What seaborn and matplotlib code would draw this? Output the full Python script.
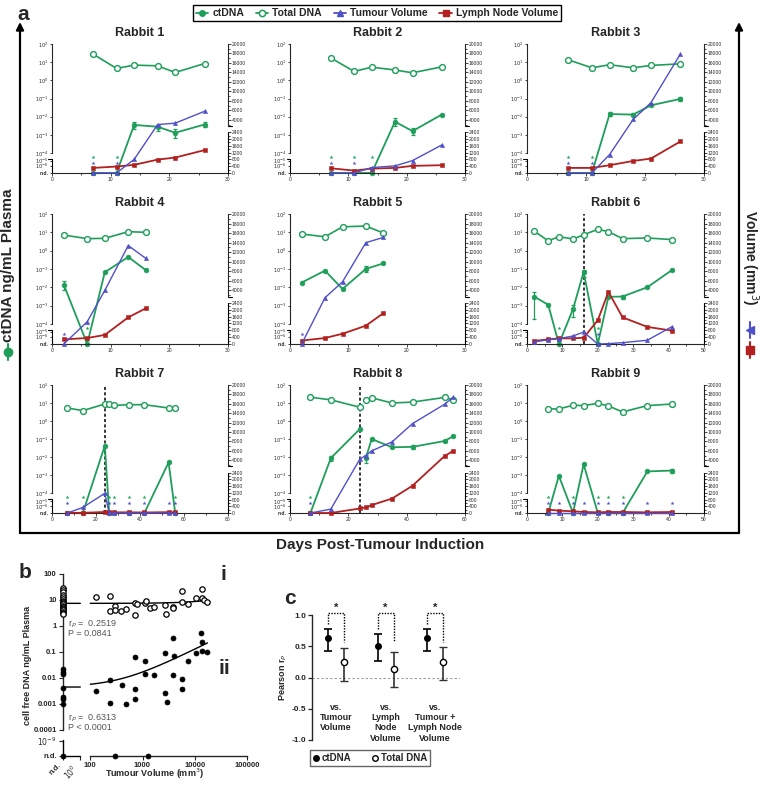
import numpy as np
import pandas as pd
import seaborn as sns
import matplotlib.pyplot as plt
from matplotlib.lines import Line2D

sns.set_style('ticks')
plt.rcParams['font.family'] = ['Liberation Sans', 'DejaVu Sans']
plt.rcParams['mathtext.fontset'] = 'dejavusans'

GREEN = '#1f9e5a'
BLUE = '#5050c8'
RED = '#b22020'

# ---------------- panel a data (ctDNA ng/mL, total DNA ng/mL, volumes mm3) ----------------
RABBITS = [1, 2, 3, 4, 5, 6, 7, 8, 9]
days = {
    1: [7, 11, 14, 18, 21, 26],
    2: [7, 11, 14, 18, 21, 26],
    3: [7, 11, 14, 18, 21, 26],
    4: [2, 6, 9, 13, 16],
    5: [2, 6, 9, 13, 16],
    6: [2, 6, 9, 13, 16, 20, 23, 27, 34, 41],
    7: [7, 14, 24, 26, 28, 35, 42, 53, 56],
    8: [7, 14, 24, 26, 28, 35, 42, 53, 56],
    9: [6, 9, 13, 16, 20, 23, 27, 34, 41],
}
# 0 = not detected
ctdna = {
    1: [0, 0, 3.5e-3, 2.8e-3, 1.3e-3, 3.7e-3],
    2: [0, 0, 0, 5.3e-3, 1.6e-3, 1.3e-2],
    3: [0, 0, 1.4e-2, 1.3e-2, 4.2e-2, 9.5e-2],
    4: [1.4e-2, 0, 6.6e-2, 0.45, 8.5e-2],
    5: [1.8e-2, 8.1e-2, 8e-3, 0.1, 0.2],
    6: [3.1e-3, 1.1e-3, 0, 6.3e-4, 6.9e-2, 0, 3e-3, 3.1e-3, 1e-2, 8.8e-2],
    7: [0, 0, 4.3e-2, 0, 0, 0, 0, 5.1e-3, 0],
    8: [0, 8.8e-3, 0.37, 9e-3, 0.1, 0.035, 0.037, 0.078, 0.146],
    9: [0, 9.2e-4, 0, 4e-3, 0, 0, 0, 1.6e-3, 1.8e-3],
}
total = {
    1: [28, 4.5, 6.9, 6.3, 2.7, 8.4],
    2: [17, 3.1, 5.3, 3.7, 2.6, 5.5],
    3: [13.4, 4.9, 7.2, 4.9, 6.6, 8.1],
    4: [7.1, 4.5, 4.7, 10.8, 10],
    5: [8.1, 5.7, 20, 22, 9.2],
    6: [11.8, 3.4, 5.8, 4.3, 7.3, 14.6, 10.9, 4.5, 4.9, 4.0],
    7: [5.3, 3.8, 8.8, 9.2, 7.3, 8.1, 8.1, 5.3, 5.3],
    8: [21, 15, 5.8, 15, 19.5, 10, 11.3, 20.4, 15],
    9: [4.7, 4.7, 7.5, 7.2, 9.6, 6.9, 3.2, 7.2, 8.8],
}
tumour = {
    1: [0, 0, 800, 3000, 3300, 5800],
    2: [0, 0, 320, 420, 730, 1650],
    3: [0, 0, 1090, 4100, 7600, 17900],
    4: [0, 1300, 4000, 13400, 10700],
    5: [0, 2650, 5800, 14000, 15100],
    6: [120, 250, 310, 470, 700, 0, 20, 80, 220, 1020],
    7: [0, 330, 1170, 0, 0, 0, 0, 0, 0],
    8: [0, 230, 4300, 5000, 6000, 7900, 11800, 15900, 17400],
    9: [0, 0, 0, 0, 0, 0, 0, 0, 0],
}
lymph = {
    1: [300, 380, 480, 790, 910, 1350],
    2: [280, 140, 260, 300, 420, 460],
    3: [300, 300, 460, 710, 850, 1860],
    4: [270, 350, 530, 1560, 2090],
    5: [200, 350, 600, 1070, 1800],
    6: [180, 270, 330, 330, 370, 1390, 3700, 1560, 1000, 780],
    7: [10, 10, 60, 50, 40, 40, 30, 50, 40],
    8: [0, 0, 270, 330, 470, 860, 1620, 4900, 6000],
    9: [200, 140, 100, 60, 40, 60, 60, 40, 60],
}
# (day, low, high) error bars of ctDNA
ct_err = {
    1: [(14, 2.2e-3, 5e-3), (18, 1.7e-3, 3.6e-3), (21, 7e-4, 2e-3), (26, 2.8e-3, 4.8e-3)],
    2: [(18, 3e-3, 8.5e-3), (21, 1e-3, 2.3e-3)],
    3: [(14, 1.1e-2, 1.7e-2), (18, 1.1e-2, 1.5e-2), (26, 7e-2, 0.12)],
    4: [(2, 7e-3, 2.2e-2)],
    5: [(13, 0.07, 0.15)],
    6: [(2, 1.8e-4, 5.8e-3), (13, 2.5e-4, 1.1e-3), (16, 0.035, 0.09), (27, 2.3e-3, 4e-3)],
    8: [(14, 6e-3, 1.1e-2), (26, 5e-3, 1.3e-2), (42, 0.027, 0.05), (53, 0.065, 0.09)],
    9: [(41, 1.3e-3, 2.2e-3)],
}
xmax = {1: 30, 2: 30, 3: 30, 4: 30, 5: 30, 6: 50, 7: 80, 8: 60, 9: 50}
xstep = {1: 10, 2: 10, 3: 10, 4: 10, 5: 10, 6: 10, 7: 20, 8: 20, 9: 10}
dashed_day = {6: 16, 7: 24, 8: 24}
split_day = {8: 24}
STAR_CT, STAR_VOL = 3.3e-5, 3e-6

# ---------------- panel b data ----------------
b_tum_total = [128, 241, 241, 300, 300, 385, 488, 724, 724, 780, 1092, 1175, 1361, 1622,
               2673, 2793, 3912, 3912, 5646, 5808, 7566, 10600, 13600, 13800, 15300, 17460]
b_total = [12.7, 14.2, 3.6, 5.9, 4.1, 3.6, 4.5, 7.9, 2.65, 7.0, 7.4, 9.4, 4.8, 5.5,
           6.4, 2.8, 5.5, 4.8, 22.9, 8.1, 6.8, 11.6, 25.7, 11.6, 10, 8.4]
b_total_nd = [30, 25, 20, 16, 13, 11, 9.5, 8.5, 7.5, 6.8, 6, 5.5, 5, 4.5, 4, 3.5, 3.2, 3]
b_tum_ct = [128, 241, 241, 403, 488, 724, 724, 724, 1120, 1092, 1622, 2673, 2673, 2920,
            3912, 4030, 3912, 5808, 5808, 7566, 10600, 13100, 13800, 13800, 17460]
b_ct = [0.0030, 0.0084, 0.00106, 0.0054, 0.001, 0.062, 0.0037, 0.0015, 0.044, 0.0138,
        0.013, 0.089, 0.0026, 0.0012, 0.33, 0.07, 0.013, 0.0089, 0.0038, 0.044, 0.094,
        0.52, 0.23, 0.11, 0.10]
b_ct_nd = [0.021, 0.017, 0.014, 0.004, 0.0018, 0.0015, 0.00095, 0]
b_tum_ct_nd = [300, 1300]
fit_total = (7.4, 1.3e-4)     # intercept, slope
fit_ct = (0.0044, 1.235e-5)

# ---------------- panel c data ----------------
c_labels = ['vs.\nTumour\nVolume', 'vs.\nLymph\nNode\nVolume', 'vs.\nTumour +\nLymph Node\nVolume']
c_ct = [0.64, 0.51, 0.63]
c_ct_lo = [0.43, 0.27, 0.43]
c_ct_hi = [0.78, 0.70, 0.77]
c_tot = [0.245, 0.144, 0.245]
c_tot_lo = [-0.05, -0.15, -0.04]
c_tot_hi = [0.48, 0.41, 0.49]


# ---------------- scales ----------------
LEFT_LOG = [-9, -6, -5, -4, 2]
LEFT_PX = [0, 7.3, 12.3, 20, 129]
def ct_fwd(v):
    return np.interp(np.log10(np.clip(np.asarray(v, float), 1e-9, None)), LEFT_LOG, LEFT_PX)
def ct_inv(p):
    return 10 ** np.interp(p, LEFT_PX, LEFT_LOG)

VOL_V = [0, 2400, 2700, 20000]
VOL_PX = [0, 40.7, 47, 129]
def vol_fwd(v):
    return np.interp(np.asarray(v, float), VOL_V, VOL_PX)
def vol_inv(p):
    return np.interp(p, VOL_PX, VOL_V)

BY_LOG = [-12, -9, -4, 2]
BY_PX = [0, 15.3, 26.3, 182]
def by_fwd(v):
    return np.interp(np.log10(np.clip(np.asarray(v, float), 1e-12, None)), BY_LOG, BY_PX)
def by_inv(p):
    return 10 ** np.interp(p, BY_PX, BY_LOG)

BX_LOG = [-3, 0, 2, 5]
BX_PX = [0, 17.3, 27.3, 184]
def bx_fwd(v):
    return np.interp(np.log10(np.clip(np.asarray(v, float), 1e-3, None)), BX_LOG, BX_PX)
def bx_inv(p):
    return 10 ** np.interp(p, BX_PX, BX_LOG)


W, H = 760, 786
def box(l, t, r, b):
    return [l / W, 1 - b / H, (r - l) / W, (b - t) / H]

fig = plt.figure(figsize=(7.6, 7.86), dpi=100)
bg = fig.add_axes([0, 0, 1, 1])
bg.set_xlim(0, W)
bg.set_ylim(H, 0)
bg.axis('off')

# frame of panel a
bg.annotate('', xy=(20, 22), xytext=(20, 533),
            arrowprops=dict(arrowstyle='-|>', lw=1.6, color='k', mutation_scale=11, shrinkA=0, shrinkB=0))
bg.annotate('', xy=(739, 22), xytext=(739, 533),
            arrowprops=dict(arrowstyle='-|>', lw=1.6, color='k', mutation_scale=11, shrinkA=0, shrinkB=0))
bg.plot([20, 739], [533, 533], color='k', lw=1.6)
bg.text(23, 15, 'a', fontsize=15, weight='bold', ha='center', va='center')
bg.text(8, 265, 'ctDNA ng/mL Plasma', rotation=90, fontsize=11, weight='bold', ha='center', va='center')
bg.plot([8, 8], [344, 360], color=GREEN, lw=1.5)
bg.plot(8, 352, 'o', color=GREEN, ms=6)
bg.text(750, 258, 'Volume (mm$^3$)', rotation=270, fontsize=10, weight='bold', ha='center', va='center')
bg.plot([750, 750], [322, 338], color=BLUE, lw=1.5)
bg.plot(750, 330, '<', color=BLUE, ms=6)
bg.plot([750, 750], [342, 358], color=RED, lw=1.5)
bg.plot(750, 350, 's', color=RED, ms=6)
bg.text(380, 545, 'Days Post-Tumour Induction', fontsize=11, weight='bold', ha='center', va='center')

leg_handles = [
    Line2D([], [], color=GREEN, marker='o', ms=4, lw=1.3),
    Line2D([], [], color=GREEN, marker='o', ms=4.5, mfc='white', mew=1.1, lw=1.3),
    Line2D([], [], color=BLUE, marker='^', ms=4, lw=1.3),
    Line2D([], [], color=RED, marker='s', ms=4, lw=1.3),
]
fig.legend(leg_handles, ['ctDNA', 'Total DNA', 'Tumour Volume', 'Lymph Node Volume'],
           loc='upper center', bbox_to_anchor=(377 / W, 1.0), ncol=4, fancybox=False,
           edgecolor='k', prop={'weight': 'bold', 'size': 7.5}, handlelength=1.2,
           handletextpad=0.4, columnspacing=1.1, borderpad=0.3, framealpha=1)

COLS = [(52, 228), (290, 465), (527, 704)]
ROWS = [(44, 173), (214, 344), (385, 513)]
FS = 3.6

for k, r in enumerate(RABBITS):
    (l, rt), (t, bt) = COLS[k % 3], ROWS[k // 3]
    ax = fig.add_axes(box(l, t, rt, bt))
    ax.patch.set_alpha(0)
    ax.set_yscale('function', functions=(ct_fwd, ct_inv))
    ax.set_xlim(0, xmax[r])
    ax.set_ylim(0, 100)
    tw = ax.twinx()
    tw.set_yscale('function', functions=(vol_fwd, vol_inv))
    tw.set_ylim(0, 20000)

    df = pd.DataFrame({'day': days[r], 'ct': ctdna[r], 'total': total[r],
                       'tumour': tumour[r], 'lymph': lymph[r]})
    df['seg'] = (df['day'] > split_day.get(r, 999)).astype(int)

    if r in dashed_day:
        ax.axvline(dashed_day[r], color='k', ls=(0, (2, 1.5)), lw=1.1, zorder=1)

    sns.lineplot(data=df, x='day', y='total', units='seg', estimator=None, ax=ax,
                 color=GREEN, lw=1.2, marker='o', markersize=4.2, markerfacecolor='white',
                 markeredgecolor=GREEN, markeredgewidth=1.0, clip_on=False, legend=False)
    sns.lineplot(data=df, x='day', y='ct', units='seg', estimator=None, ax=ax,
                 color=GREEN, lw=1.3, marker='o', markersize=3.4, markeredgecolor=GREEN,
                 markeredgewidth=0.5, clip_on=False, legend=False)
    for d, lo, hi in ct_err.get(r, []):
        v = df.loc[df['day'] == d, 'ct'].iloc[0]
        ax.errorbar(d, v, yerr=[[v - lo], [hi - v]], fmt='none', ecolor=GREEN,
                    elinewidth=0.9, capsize=1.6, capthick=0.9)
    nd_ct = df[df['ct'] == 0]
    ax.scatter(nd_ct['day'], np.full(len(nd_ct), STAR_CT), marker='*', s=9, color=GREEN,
               lw=0, clip_on=False, zorder=4)
    nd_vol = df[df['tumour'] == 0]
    ax.scatter(nd_vol['day'], np.full(len(nd_vol), STAR_VOL), marker='*', s=9, color=BLUE,
               lw=0, clip_on=False, zorder=4)

    sns.lineplot(data=df, x='day', y='lymph', ax=tw, color=RED, lw=1.3, marker='s',
                 markersize=3.3, markeredgecolor=RED, markeredgewidth=0.4,
                 clip_on=False, legend=False, errorbar=None)
    sns.lineplot(data=df, x='day', y='tumour', ax=tw, color=BLUE, lw=1.0, marker='^',
                 markersize=3.0, markeredgecolor=BLUE, markeredgewidth=0.4,
                 clip_on=False, legend=False, errorbar=None)

    ax.set_title(f'Rabbit {r}', fontsize=9, weight='bold', pad=6)
    ax.set_xlabel('')
    ax.set_ylabel('')
    tw.set_ylabel('')

    # x axis
    ax.set_xticks(np.arange(0, xmax[r] + 1, xstep[r]))
    ax.set_xticks(np.arange(xstep[r] / 2, xmax[r], xstep[r]), minor=True)
    ax.tick_params(axis='x', which='both', labelsize=FS, width=0.6, pad=1)
    ax.tick_params(axis='x', which='major', length=2)
    ax.tick_params(axis='x', which='minor', length=1.2)

    # left axis with break
    lt = [0, 1e-6, 1e-5, 1e-4, 1e-3, 1e-2, 1e-1, 1, 10, 100]
    ll = ['n.d.', '$10^{-6}$', '$10^{-5}$', '$10^{-4}$', '$10^{-3}$', '$10^{-2}$',
          '$10^{-1}$', '$10^{0}$', '$10^{1}$', '$10^{2}$']
    ax.set_yticks(lt)
    ax.set_yticklabels(ll)
    ax.yaxis.set_minor_locator(plt.NullLocator())
    ax.tick_params(axis='y', labelsize=FS, length=1.8, width=0.6, pad=1)
    for lab in ax.get_yticklabels():
        lab.set_fontweight('bold')
    ax.spines['left'].set_bounds(1e-4, 100)
    ax.plot([0, 0], [0, 1.6e-5], color='k', lw=0.8, transform=ax.get_yaxis_transform(), clip_on=False)
    ax.plot([-0.02, 0], [1.6e-5, 1.6e-5], color='k', lw=0.8, transform=ax.get_yaxis_transform(), clip_on=False)
    ax.spines['right'].set_visible(False)
    ax.spines['top'].set_visible(False)
    for s in ['left', 'bottom']:
        ax.spines[s].set_linewidth(0.8)

    # right axis with break
    tw.set_yticks(list(range(0, 2401, 400)) + list(range(4000, 20001, 2000)))
    tw.set_yticks(list(range(200, 2400, 400)) + list(range(3000, 20000, 2000)), minor=True)
    tw.tick_params(axis='y', which='both', labelsize=FS, width=0.6, pad=1)
    tw.tick_params(axis='y', which='major', length=1.8)
    tw.tick_params(axis='y', which='minor', length=1.1)
    tw.yaxis.set_major_formatter(plt.FuncFormatter(lambda v, p: f'{v:.0f}'))
    tw.spines['right'].set_bounds(2700, 20000)
    tw.spines['right'].set_linewidth(0.8)
    tw.plot([1, 1], [0, 2400], color='k', lw=0.8, transform=tw.get_yaxis_transform(), clip_on=False)
    tw.plot([1, 1.02], [2700, 2700], color='k', lw=0.8, transform=tw.get_yaxis_transform(), clip_on=False)
    for s in ['left', 'top', 'bottom']:
        tw.spines[s].set_visible(False)

# ---------------- panel b ----------------
fig.text(25 / W, 1 - 572 / H, 'b', fontsize=15, weight='bold', ha='center', va='center')
axb = fig.add_axes(box(63, 574, 247, 756))
axb.patch.set_alpha(0)
axb.set_xscale('function', functions=(bx_fwd, bx_inv))
axb.set_yscale('function', functions=(by_fwd, by_inv))
axb.set_xlim(0, 1e5)
axb.set_ylim(0, 100)

sns.scatterplot(x=b_tum_total + [0] * len(b_total_nd), y=b_total + b_total_nd, ax=axb,
                color='white', edgecolor='k', linewidth=0.9, s=15, clip_on=False, zorder=3)
sns.scatterplot(x=b_tum_ct + [0] * len(b_ct_nd) + b_tum_ct_nd,
                y=b_ct + b_ct_nd + [0] * len(b_tum_ct_nd), ax=axb,
                color='k', edgecolor='k', linewidth=0.5, s=13, clip_on=False, zorder=3)

for a0, a1 in [fit_total, fit_ct]:
    xs_nd = np.array([0, 1])
    xs = np.geomspace(100, 17500, 60)
    axb.plot(xs_nd, a0 + a1 * xs_nd, color='k', lw=1.0)
    axb.plot(xs, a0 + a1 * xs, color='k', lw=1.0)

axb.set_yticks([0, 1e-9, 1e-4, 1e-3, 1e-2, 1e-1, 1, 10, 100])
axb.set_yticklabels(['n.d.', '$10^{-9}$', '0.0001', '0.001', '0.01', '0.1', '1', '10', '100'])
axb.set_xticks([0, 1, 100, 1000, 10000, 100000])
axb.set_xticklabels(['n.d.', '$10^{0}$', '100', '1000', '10000', '100000'])
axb.xaxis.set_minor_locator(plt.NullLocator())
axb.yaxis.set_minor_locator(plt.NullLocator())
axb.tick_params(labelsize=5.5, length=3, width=0.8, pad=1.5)
for lab in axb.get_xticklabels()[:2]:
    lab.set_rotation(45)
    lab.set_ha('right')
    lab.set_va('top')
for lab in axb.get_xticklabels() + axb.get_yticklabels():
    lab.set_fontweight('bold')
axb.spines['left'].set_bounds(1e-4, 100)
axb.spines['bottom'].set_bounds(100, 1e5)
axb.plot([0, 0], [0, 2e-9], color='k', lw=1.0, transform=axb.get_yaxis_transform(), clip_on=False)
axb.plot([0, 1], [0, 0], color='k', lw=1.0, transform=axb.get_xaxis_transform(), clip_on=False)
for s in ['left', 'bottom']:
    axb.spines[s].set_linewidth(1.0)
axb.spines['top'].set_visible(False)
axb.spines['right'].set_visible(False)
axb.set_xlabel('Tumour Volume (mm$^3$)', fontsize=6.5, weight='bold')
axb.xaxis.set_label_coords(0.5, -0.06)
axb.set_ylabel('cell free DNA ng/mL Plasma', fontsize=6.5, weight='bold', labelpad=1)

fig.text(68 / W, 1 - 618 / H, 'r$_P$ =  0.2519\nP = 0.0841', fontsize=6.5, color='#555555',
         va='top', linespacing=1.0)
fig.text(68 / W, 1 - 712 / H, 'r$_P$ =  0.6313\nP < 0.0001', fontsize=6.5, color='#555555',
         va='top', linespacing=1.0)
fig.text(220 / W, 1 - 574 / H, 'i', fontsize=15, weight='bold', va='center')
fig.text(218 / W, 1 - 668 / H, 'ii', fontsize=15, weight='bold', va='center')

# ---------------- panel c ----------------
fig.text(290 / W, 1 - 598 / H, 'c', fontsize=15, weight='bold', ha='center', va='center')
axc = fig.add_axes(box(312, 615, 460, 740))
axc.patch.set_alpha(0)
axc.spines['bottom'].set_position(('data', -0.38))
axc.spines['bottom'].set_visible(False)
axc.spines['top'].set_visible(False)
axc.spines['right'].set_visible(False)
pos = np.arange(3)
off = 0.16
axc.axhline(0, color='#9a9a9a', ls=(0, (2, 2)), lw=0.8, zorder=0)
ct_arr, tot_arr = np.array(c_ct), np.array(c_tot)
axc.errorbar(pos - off, ct_arr, yerr=[ct_arr - np.array(c_ct_lo), np.array(c_ct_hi) - ct_arr],
             fmt='o', color='k', ms=4, elinewidth=1.2, capsize=3, capthick=1.2, clip_on=False)
axc.errorbar(pos + off, tot_arr, yerr=[tot_arr - np.array(c_tot_lo), np.array(c_tot_hi) - tot_arr],
             fmt='o', color='#333333', mfc='white', mec='k', ms=4.5, mew=1.0, elinewidth=1.2,
             capsize=3, capthick=1.2, clip_on=False)
for i in pos:
    axc.plot([i - off, i - off, i + off, i + off], [c_ct_hi[i] + 0.08, 1.03, 1.03, 0.57],
             color='k', ls=(0, (1, 1)), lw=1.0, clip_on=False)
    axc.text(i, 1.04, '*', ha='center', va='bottom', fontsize=8, weight='bold')
axc.set_xlim(-0.485, 2.5)
axc.set_ylim(-1.0, 1.0)
axc.set_yticks([-1.0, -0.5, 0.0, 0.5, 1.0])
axc.yaxis.set_major_formatter(plt.FuncFormatter(lambda v, p: f'{v:.1f}'))
axc.set_xticks(pos)
axc.tick_params(axis='x', length=0, pad=1, labelsize=6.4)
axc.tick_params(axis='y', labelsize=6, length=3, width=0.9, pad=1)
axc.set_xticklabels(c_labels, fontsize=6.4, weight='bold', linespacing=1.2)
axc.spines['left'].set_linewidth(1.0)
for lab in axc.get_yticklabels():
    lab.set_fontweight('bold')
axc.set_ylabel('Pearson r$_P$', fontsize=6.5, weight='bold', labelpad=2)

c_handles = [Line2D([], [], marker='o', color='k', ls='none', ms=4),
             Line2D([], [], marker='o', color='k', mfc='white', ls='none', ms=4)]
fig.legend(c_handles, ['ctDNA', 'Total DNA'], loc='center', bbox_to_anchor=(370 / W, 1 - 758 / H),
           ncol=2, fancybox=False, edgecolor='#666666', prop={'weight': 'bold', 'size': 7},
           handlelength=0.6, handletextpad=0.3, columnspacing=2.2, borderpad=0.3, framealpha=1)

fig.savefig('out.png', dpi=100)
